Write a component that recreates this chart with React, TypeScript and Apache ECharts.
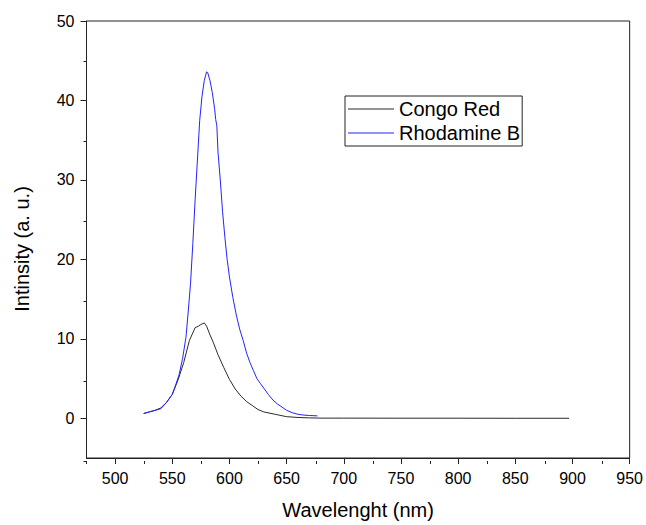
import React, { useEffect, useRef } from "react";
import * as echarts from "echarts";

// Rhodamine B emission spectrum (wavelength in nm, intensity in a.u.)
const rbWavelength = [525, 530, 535, 540, 545, 550, 553, 556, 559, 562, 564, 566, 568, 570, 572, 574, 576, 578, 580, 581, 583, 585, 587, 588, 589, 590, 592, 594, 596, 598, 600, 603, 606, 609, 612, 615, 618, 621, 624, 627, 630, 634, 638, 642, 646, 650, 655, 660, 665, 670, 677];
const rbIntensity = [0.6, 0.8, 1.0, 1.2, 2.0, 3.0, 4.2, 5.5, 7.5, 10.2, 13.5, 17, 22, 27.5, 32.5, 37.5, 40.5, 42.5, 43.6, 43.5, 42.5, 41, 39, 37.6, 36.8, 33.5, 30, 26, 22.8, 20, 17.8, 15.2, 13, 11.2, 9.8, 8.2, 7, 6, 5, 4.4, 3.8, 3, 2.3, 1.8, 1.4, 1.0, 0.7, 0.5, 0.4, 0.35, 0.3];

// Congo Red emission spectrum
const crWavelength = [525, 530, 535, 540, 545, 550, 555, 560, 565, 570, 573, 575, 578, 580, 583, 586, 590, 595, 600, 605, 610, 615, 620, 625, 630, 640, 650, 660, 670, 680, 700, 750, 800, 850, 897];
const crIntensity = [0.6, 0.8, 1.0, 1.3, 2.0, 3.0, 4.8, 7.0, 9.8, 11.4, 11.6, 11.8, 12.0, 11.6, 10.5, 9.5, 8.0, 6.4, 4.9, 3.7, 2.8, 2.1, 1.6, 1.1, 0.8, 0.5, 0.2, 0.1, 0.05, 0.02, 0.02, 0.01, 0.01, 0, 0];

const seriesNames = ["Congo Red", "Rhodamine B"];

const xMajorTicks = [500, 550, 600, 650, 700, 750, 800, 850, 900, 950];
const xMinorTicks = [475, 525, 575, 625, 675, 725, 775, 825, 875, 925];
const yMajorTicks = [0, 10, 20, 30, 40, 50];
const yMinorTicks = [-5, 5, 15, 25, 35, 45];

const xTitle = "Wavelenght (nm)";
const yTitle = "Intinsity (a. u.)";

const FONT = "'Liberation Sans', Arial, sans-serif";
const INK = "#222";

export default function App() {
  const ref = useRef<HTMLDivElement>(null);

  useEffect(() => {
    if (!ref.current) return;
    const chart = echarts.init(ref.current, undefined, { renderer: "svg" });
    const gridRect = { left: 86.5, top: 21, right: 15, bottom: 64 };

    const option: any = {
      animation: false,
      backgroundColor: "#fff",
      grid: [
        { ...gridRect, show: true, borderColor: INK, borderWidth: 1, backgroundColor: "transparent" },
        { ...gridRect, show: false },
      ],
      xAxis: [
        {
          type: "value",
          gridIndex: 0,
          min: 475,
          max: 950,
          axisLine: { show: true, onZero: false, lineStyle: { color: INK, width: 1 } },
          axisTick: { show: true, inside: false, length: 6, customValues: xMajorTicks, lineStyle: { color: INK, width: 1 } },
          axisLabel: { customValues: xMajorTicks, margin: 12, fontSize: 16, color: "#000", fontFamily: FONT },
          splitLine: { show: false },
          name: xTitle,
          nameLocation: "middle",
          nameGap: 42,
          nameTextStyle: { fontSize: 20, color: "#000", fontFamily: FONT },
        },
        {
          type: "value",
          gridIndex: 1,
          min: 475,
          max: 950,
          axisLine: { show: false, onZero: false },
          axisTick: { show: true, inside: false, length: 3, customValues: xMinorTicks, lineStyle: { color: INK, width: 1 } },
          axisLabel: { show: false },
          splitLine: { show: false },
        },
      ],
      yAxis: [
        {
          type: "value",
          gridIndex: 0,
          min: -5,
          max: 50,
          axisLine: { show: true, onZero: false, lineStyle: { color: INK, width: 1 } },
          axisTick: { show: true, inside: false, length: 6, customValues: yMajorTicks, lineStyle: { color: INK, width: 1 } },
          axisLabel: { customValues: yMajorTicks, margin: 12, fontSize: 16, color: "#000", fontFamily: FONT },
          splitLine: { show: false },
        },
        {
          type: "value",
          gridIndex: 1,
          min: -5,
          max: 50,
          axisLine: { show: false, onZero: false },
          axisTick: { show: true, inside: false, length: 3, customValues: yMinorTicks, lineStyle: { color: INK, width: 1 } },
          axisLabel: { show: false },
          splitLine: { show: false },
        },
      ],
      legend: {
        orient: "vertical",
        left: 345,
        top: 96,
        padding: [2, 2, 2, 3],
        itemGap: 2,
        itemWidth: 46,
        itemHeight: 1.2,
        icon: "rect",
        borderColor: INK,
        borderWidth: 1,
        textStyle: { fontSize: 20, fontFamily: FONT, color: "#000", lineHeight: 22 },
        data: seriesNames,
      },
      graphic: [
        {
          type: "text",
          x: 22,
          y: 249,
          rotation: Math.PI / 2,
          style: {
            text: yTitle,
            fontSize: 20,
            fontFamily: FONT,
            fill: "#000",
            align: "center",
            verticalAlign: "middle",
          },
        },
      ],
      series: [
        {
          name: seriesNames[0],
          type: "line",
          xAxisIndex: 0,
          yAxisIndex: 0,
          symbol: "none",
          showSymbol: false,
          color: "#2a2a2a",
          lineStyle: { width: 1, color: "#2a2a2a" },
          data: crWavelength.map((x, i) => [x, crIntensity[i]]),
        },
        {
          name: seriesNames[1],
          type: "line",
          xAxisIndex: 0,
          yAxisIndex: 0,
          symbol: "none",
          showSymbol: false,
          color: "#2323ff",
          lineStyle: { width: 1, color: "#2323ff" },
          data: rbWavelength.map((x, i) => [x, rbIntensity[i]]),
        },
      ],
    };

    chart.setOption(option);
    return () => chart.dispose();
  }, []);

  return (
    <div
      ref={ref}
      style={{ position: "fixed", left: 0, top: 0, width: 646, height: 525 }}
    />
  );
}
